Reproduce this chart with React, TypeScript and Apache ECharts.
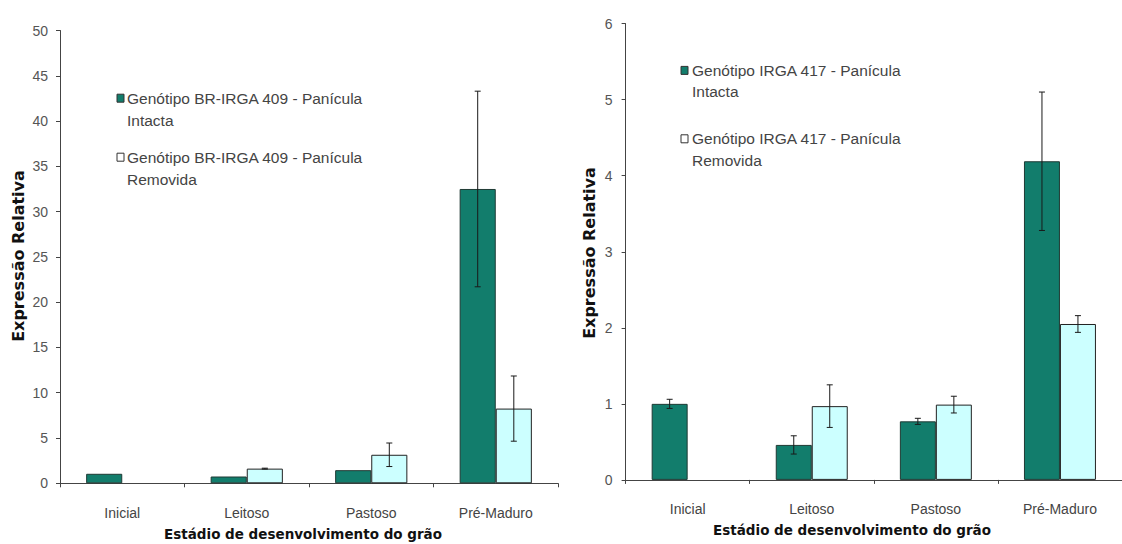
import React, { useEffect, useRef } from "react";
import * as echarts from "echarts";

// Grain development stages
const categories = ["Inicial", "Leitoso", "Pastoso", "Pré-Maduro"];

// BR-IRGA 409 — relative expression and standard error
const intact409 = [1.05, 0.75, 1.45, 32.5];
const intactErr409 = [0, 0, 0, 10.8];
const removed409: (number | null)[] = [null, 1.62, 3.15, 8.25];
const removedErr409: (number | null)[] = [null, 0.05, 1.3, 3.6];

// IRGA 417 — relative expression and standard error
const intact417 = [1.0, 0.46, 0.77, 4.19];
const intactErr417 = [0.06, 0.12, 0.04, 0.91];
const removed417: (number | null)[] = [null, 0.97, 0.99, 2.05];
const removedErr417: (number | null)[] = [null, 0.28, 0.11, 0.11];

const legend409 = [
  "Genótipo BR-IRGA 409 - Panícula\nIntacta",
  "Genótipo BR-IRGA 409 - Panícula\nRemovida",
];
const legend417 = [
  "Genótipo IRGA 417 - Panícula\nIntacta",
  "Genótipo IRGA 417 - Panícula\nRemovida",
];

const yTitle = "Expressão Relativa";
const xTitle = "Estádio de desenvolvimento do grão";

const DARK = "#127d6c";
const LIGHT = "#ccffff";
const BAR_FRAC = 0.29;
const SANS = "'Liberation Sans', Arial, sans-serif";
const BOLD = "'DejaVu Sans', Verdana, sans-serif";

function errorRenderer(side: number) {
  return (params: any, api: any) => {
    const v = api.value(1);
    const e = api.value(2);
    if (v == null || isNaN(v) || !e) return null;
    const idx = api.value(0);
    const hi = api.coord([idx, v + e]);
    const lo = api.coord([idx, v - e]);
    const band = api.size([1, 0])[0];
    const cx = hi[0] + (side * band * BAR_FRAC) / 2;
    const cap = 3;
    const style = { stroke: "#1a1a1a", lineWidth: 1 };
    return {
      type: "group",
      children: [
        { type: "line", shape: { x1: cx, y1: hi[1], x2: cx, y2: lo[1] }, style },
        { type: "line", shape: { x1: cx - cap, y1: hi[1], x2: cx + cap, y2: hi[1] }, style },
        { type: "line", shape: { x1: cx - cap, y1: lo[1], x2: cx + cap, y2: lo[1] }, style },
      ],
    };
  };
}

function errData(vals: (number | null)[], errs: (number | null)[]) {
  return vals.map((v, i) => [i, v == null ? "-" : v, errs[i] == null ? 0 : errs[i]]);
}

function xAxisFor(gridIndex: number, labelMargin: number) {
  return {
    type: "category",
    gridIndex,
    data: categories,
    boundaryGap: true,
    axisLine: { lineStyle: { color: "#444", width: 1 } },
    axisTick: { show: true, length: 4, inside: false, lineStyle: { color: "#444" } },
    axisLabel: { color: "#444", fontSize: 14, fontFamily: SANS, margin: labelMargin },
    splitLine: { show: false },
  };
}

function yAxisFor(gridIndex: number, max: number, interval: number, margin: number) {
  return {
    type: "value",
    gridIndex,
    min: 0,
    max,
    interval,
    axisLine: { show: true, lineStyle: { color: "#444", width: 1 } },
    axisTick: { show: true, length: 4, lineStyle: { color: "#444" } },
    axisLabel: { color: "#555", fontSize: 14, fontFamily: SANS, margin },
    splitLine: { show: false },
  };
}

function legendBlock(x: number, markerX: number, items: string[], centers: number[], lineH: number) {
  const out: any[] = [];
  items.forEach((label, i) => {
    out.push({
      type: "rect",
      shape: { x: markerX, y: centers[i] - 4, width: 7, height: 8 },
      style: { fill: i === 0 ? DARK : "#ffffff", stroke: "#333", lineWidth: 1 },
    });
    out.push({
      type: "text",
      x,
      y: centers[i] - lineH / 2,
      style: {
        text: label,
        fill: "#444",
        font: `15.5px ${SANS}`,
        lineHeight: lineH,
        textAlign: "left",
        textVerticalAlign: "top",
      },
    });
  });
  return out;
}

function titleText(x: number, y: number, text: string, size: number, rotate = false) {
  return {
    type: "text",
    x,
    y,
    rotation: rotate ? Math.PI / 2 : 0,
    style: {
      text,
      fill: "#111",
      font: `bold ${size}px ${BOLD}`,
      textAlign: "center",
      textVerticalAlign: "middle",
    },
  };
}

export default function App() {
  const ref = useRef<HTMLDivElement>(null);

  useEffect(() => {
    if (!ref.current) return;
    const chart = echarts.init(ref.current, null, { renderer: "svg" });

    const barBase = {
      type: "bar",
      barWidth: `${BAR_FRAC * 100}%`,
      barGap: "0%",
      barCategoryGap: "42%",
    };

    chart.setOption({
      animation: false,
      backgroundColor: "#ffffff",
      grid: [
        { left: 60, top: 30.5, width: 498, bottom: 60.7 },
        { left: 625.6, top: 23.6, right: -9, bottom: 64.1 },
      ],
      xAxis: [xAxisFor(0, 23), xAxisFor(1, 22)],
      yAxis: [yAxisFor(0, 50, 5, 12), yAxisFor(1, 6, 1, 13)],
      series: [
        {
          ...barBase,
          name: legend409[0],
          xAxisIndex: 0,
          yAxisIndex: 0,
          data: intact409,
          itemStyle: { color: DARK, borderColor: "#1f3a34", borderWidth: 1 },
        },
        {
          ...barBase,
          name: legend409[1],
          xAxisIndex: 0,
          yAxisIndex: 0,
          data: removed409.map((v) => (v == null ? "-" : v)),
          itemStyle: { color: LIGHT, borderColor: "#222", borderWidth: 1 },
        },
        {
          ...barBase,
          name: legend417[0],
          xAxisIndex: 1,
          yAxisIndex: 1,
          data: intact417,
          itemStyle: { color: DARK, borderColor: "#1f3a34", borderWidth: 1 },
        },
        {
          ...barBase,
          name: legend417[1],
          xAxisIndex: 1,
          yAxisIndex: 1,
          data: removed417.map((v) => (v == null ? "-" : v)),
          itemStyle: { color: LIGHT, borderColor: "#222", borderWidth: 1 },
        },
        {
          type: "custom",
          xAxisIndex: 0,
          yAxisIndex: 0,
          renderItem: errorRenderer(-1),
          encode: { x: 0, y: 1 },
          data: errData(intact409, intactErr409),
          z: 5,
        },
        {
          type: "custom",
          xAxisIndex: 0,
          yAxisIndex: 0,
          renderItem: errorRenderer(1),
          encode: { x: 0, y: 1 },
          data: errData(removed409, removedErr409),
          z: 5,
        },
        {
          type: "custom",
          xAxisIndex: 1,
          yAxisIndex: 1,
          renderItem: errorRenderer(-1),
          encode: { x: 0, y: 1 },
          data: errData(intact417, intactErr417),
          z: 5,
        },
        {
          type: "custom",
          xAxisIndex: 1,
          yAxisIndex: 1,
          renderItem: errorRenderer(1),
          encode: { x: 0, y: 1 },
          data: errData(removed417, removedErr417),
          z: 5,
        },
      ],
      graphic: [
        ...legendBlock(127, 117, legend409, [98.2, 157.2], 22),
        ...legendBlock(692, 681, legend417, [70.4, 138.8], 21.6),
        titleText(18, 256, yTitle, 16, true),
        titleText(589, 253, yTitle, 16, true),
        titleText(303, 534, xTitle, 13.5),
        titleText(852, 530, xTitle, 13.5),
      ],
    });

    return () => chart.dispose();
  }, []);

  return (
    <div
      ref={ref}
      style={{ position: "absolute", left: 0, top: 0, width: 1122, height: 544, background: "#fff" }}
    />
  );
}
